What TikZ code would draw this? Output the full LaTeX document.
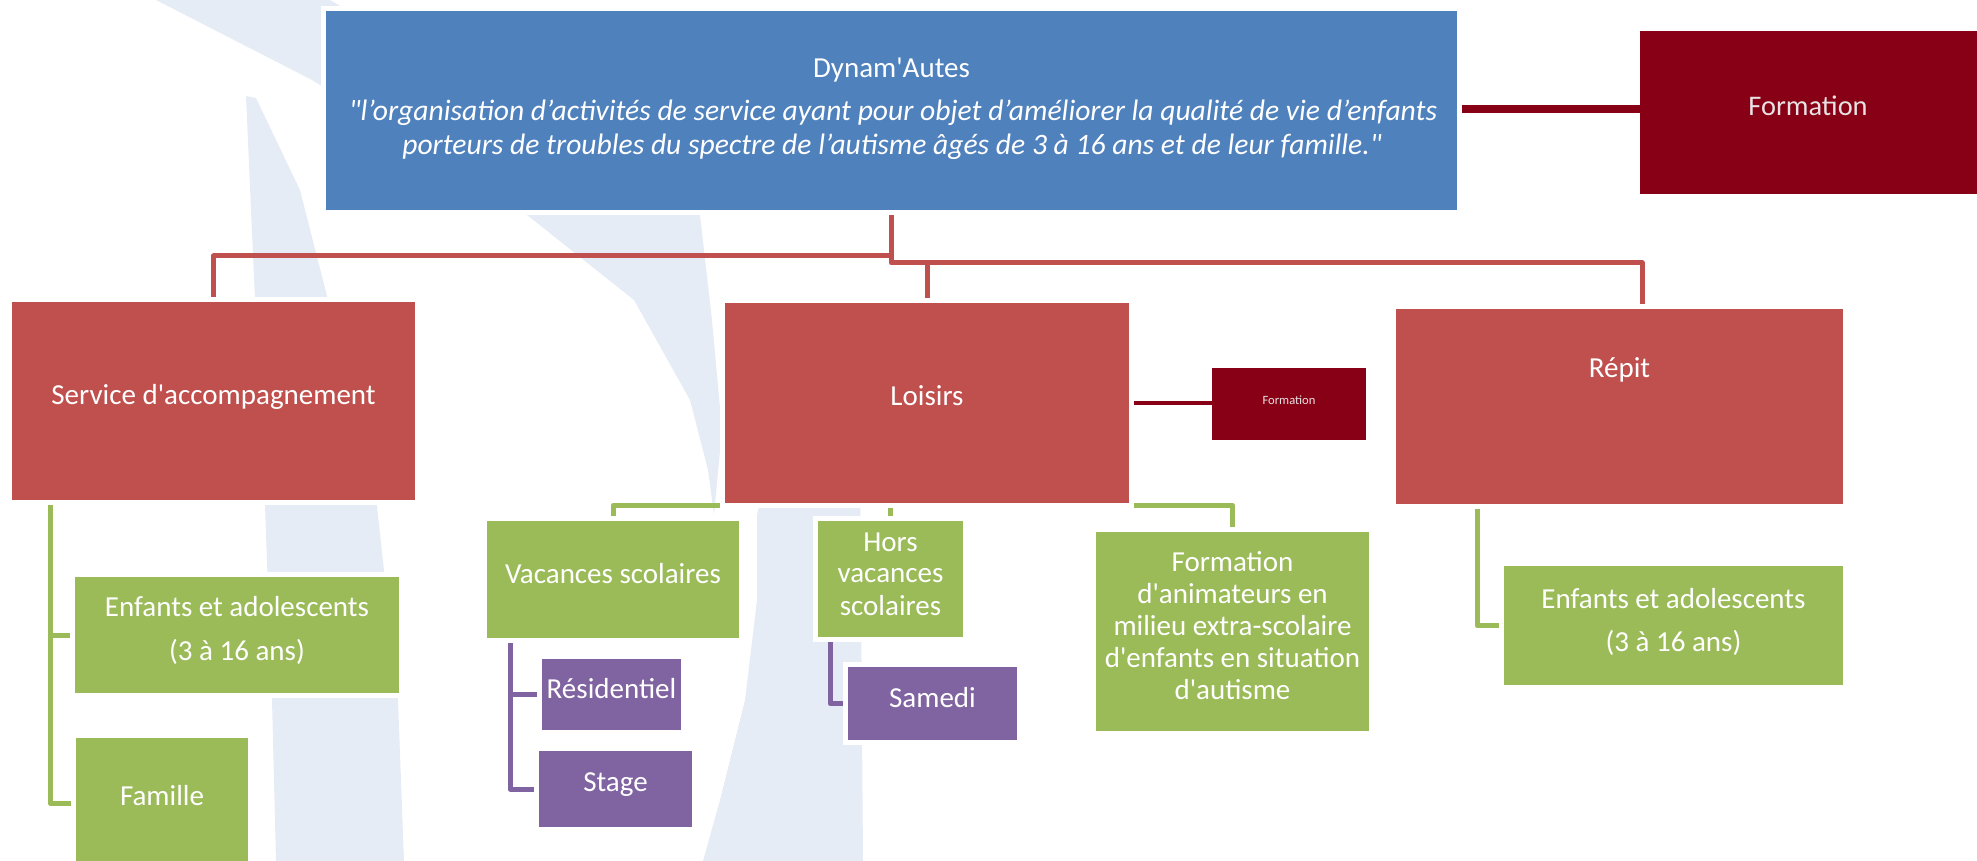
\documentclass[tikz,border=0pt]{standalone}
\usepackage{fontspec}
\setmainfont{Carlito}[Ligatures=TeXOff]
\pgfdeclarelayer{wm}
\pgfdeclarelayer{conn}
\pgfsetlayers{wm,conn,main}
\definecolor{cblue}{HTML}{4F81BD}
\definecolor{cred}{HTML}{C0504D}
\definecolor{cdark}{HTML}{880015}
\definecolor{cgreen}{HTML}{9BBB59}
\definecolor{cpurple}{HTML}{8064A2}
\definecolor{cwm}{HTML}{E6ECF6}
\definecolor{cftxt}{HTML}{E8E2E3}
% name, fill, x1, y1, x2, y2, outline
\newcommand\mkbox[7]{\node[box, fill=#2, draw=#7, minimum width={(#5-#3+5)*0.5pt}, minimum height={(#6-#4+5)*0.5pt}] (#1) at ({(#3+#5)/2},{(#4+#6)/2}) {};}
\begin{document}
\begin{tikzpicture}[x=0.5pt,y=-0.5pt,
  box/.style={rectangle, line width=2.5pt, inner sep=0pt, outer sep=0pt},
  t/.style={anchor=base, inner sep=0pt, text=white, font=\fontsize{14.5pt}{17pt}\selectfont},
  ti/.style={anchor=base, inner sep=0pt, text=white, font=\fontsize{14.8pt}{17pt}\selectfont\itshape},
  tf/.style={anchor=base, inner sep=0pt, text=cftxt, font=\fontsize{14.2pt}{17pt}\selectfont},
  tfs/.style={anchor=base, inner sep=0pt, text=cftxt, font=\fontsize{6.3pt}{8pt}\selectfont},
  redl/.style={draw=cred, line width=2.5pt, line join=round},
  greenl/.style={draw=cgreen, line width=2.5pt, line join=round},
  purpl/.style={draw=cpurple, line width=2.5pt, line join=round},
  darkl/.style={draw=cdark}]
\useasboundingbox (0,0) rectangle (1977,861);
\clip (0,0) rectangle (1977,861);

% watermark
\begin{pgfonlayer}{wm}
\fill[cwm] (246,96) -- (256,98) -- (300,190) -- (327,296) -- (377,506) -- (398,700) -- (404,861)
  -- (276,861) -- (272,700) -- (265,506) -- (255,300) -- cycle;
\fill[cwm] (156,0) -- (312,80) -- (527,215) -- (634,300) -- (690,400) -- (708,470) -- (714,515)
  -- (722,430) -- (712,320) -- (700,215) -- (330,0) -- cycle;
\fill[cwm] (770,460) -- (860,460) -- (863,861) -- (703,861) -- (720,800) -- (745,700)
  -- (757,600) -- (757,515) -- cycle;
\end{pgfonlayer}

% boxes
\mkbox{blue}{cblue}{326}{11}{1457}{210}{white}
\mkbox{formtop}{cdark}{1645}{36}{1995}{189}{cdark}
\mkbox{serv}{cred}{12}{302}{415}{500}{white}
\mkbox{lois}{cred}{725}{303}{1129}{503}{white}
\mkbox{formsm}{cdark}{1217}{373}{1361}{435}{cdark}
\mkbox{repit}{cred}{1396}{309}{1843}{504}{white}
\mkbox{enf1}{cgreen}{75}{577}{399}{693}{white}
\mkbox{fam}{cgreen}{76}{738}{248}{868}{white}
\mkbox{vac}{cgreen}{487}{521}{739}{638}{white}
\mkbox{res}{cpurple}{542}{659}{681}{730}{white}
\mkbox{stage}{cpurple}{539}{751}{692}{827}{white}
\mkbox{hors}{cgreen}{818}{521}{963}{637}{white}
\mkbox{sam}{cpurple}{848}{667}{1017}{740}{white}
\mkbox{fanim}{cgreen}{1096}{532}{1369}{731}{white}
\mkbox{enf2}{cgreen}{1504}{566}{1843}{685}{white}

% connectors
\begin{pgfonlayer}{conn}
\coordinate (ya) at (0,256);
\coordinate (yb) at (0,263);
\coordinate (rx) at (1642,0);
\coordinate (fy) at (0,109);
\coordinate (gx1) at (50,0);
\coordinate (gx2) at (1477,0);
\coordinate (px1) at (510,0);
\coordinate (px2) at (830,0);
\draw[redl] (blue.south) -- (blue.south |- ya) -| (serv.north);
\draw[redl] (blue.south) -- (blue.south |- yb) -| (lois.north);
\draw[redl] (blue.south |- yb) -| (repit.north -| rx);
\draw[darkl, line width=4pt] (blue.east |- fy) -- (formtop.west |- fy);
\draw[darkl, line width=1.75pt] (lois.east) -- (lois.east -| formsm.west);
\draw[greenl] (serv.south -| gx1) |- (enf1.west);
\draw[greenl] (serv.south -| gx1) |- (fam.west);
\draw[greenl] (lois.south) -| (vac.north);
\draw[greenl] (lois.south) -| (hors.north);
\draw[greenl] (lois.south) -| (fanim.north);
\draw[greenl] (repit.south -| gx2) |- (enf2.west);
\draw[purpl] (vac.south -| px1) |- (res.west);
\draw[purpl] (vac.south -| px1) |- (stage.west);
\draw[purpl] (hors.south -| px2) |- (sam.west);
\end{pgfonlayer}

% texts
\node[t] (t-dyn) at (891.5,77.5) {Dynam'Autes};
\node[ti] (t-q1) at (893,121) {"l’organisation d’activités de service ayant pour objet d’améliorer la qualité de vie d’enfants};
\node[ti] (t-q2) at (892,155) {porteurs de troubles du spectre de l’autisme âgés de 3 à 16 ans et de leur famille."};
\node[tf] (t-ft) at (1808,116) {Formation};
\node[t] (t-serv) at (213.5,405) {Service d'accompagnement};
\node[t] (t-lois) at (927,406) {Loisirs};
\node[tfs] (t-fs) at (1289,405) {Formation};
\node[t] (t-rep) at (1619.5,378) {Répit};
\node[t] (t-e1a) at (237,616) {Enfants et adolescents};
\node[t] (t-e1b) at (237,660) {(3 à 16 ans)};
\node[t] (t-fam) at (162,805) {Famille};
\node[t] (t-vac) at (613,583) {Vacances scolaires};
\node[t] (t-res) at (611.5,698) {Résidentiel};
\node[t] (t-stg) at (615.5,791) {Stage};
\node[t] (t-h1) at (890.5,551) {Hors};
\node[t] (t-h2) at (890.5,582) {vacances};
\node[t] (t-h3) at (890.5,615) {scolaires};
\node[t] (t-sam) at (932.5,707) {Samedi};
\node[t] (t-f1) at (1232.5,571) {Formation};
\node[t] (t-f2) at (1232.5,603) {d'animateurs en};
\node[t] (t-f3) at (1232.5,635) {milieu extra-scolaire};
\node[t] (t-f4) at (1232.5,667) {d'enfants en situation};
\node[t] (t-f5) at (1232.5,699) {d'autisme};
\node[t] (t-e2a) at (1673.5,608) {Enfants et adolescents};
\node[t] (t-e2b) at (1673.5,651) {(3 à 16 ans)};
\end{tikzpicture}
\end{document}
